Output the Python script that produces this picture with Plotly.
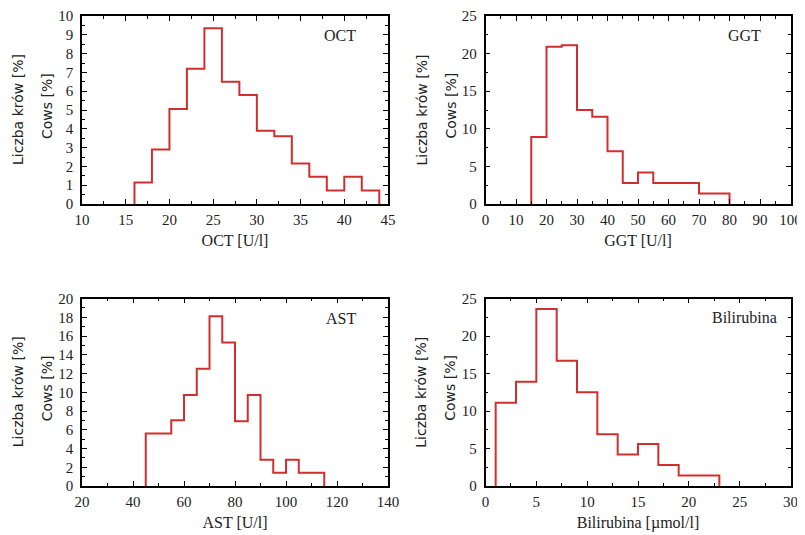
import plotly.graph_objects as go

# ---- data ----
oct_edges = [16, 18, 20, 22, 24, 26, 28, 30, 32, 34, 36, 38, 40, 42, 44]
oct_pct = [1.15, 2.9, 5.05, 7.2, 9.35, 6.5, 5.8, 3.9, 3.6, 2.15, 1.45, 0.72, 1.45, 0.72]

ggt_edges = [15, 20, 25, 30, 35, 40, 45, 50, 55, 60, 65, 70, 75, 80]
ggt_pct = [8.9, 20.9, 21.1, 12.5, 11.6, 7.0, 2.8, 4.2, 2.8, 2.8, 2.8, 1.4, 1.4]

ast_edges = [45, 50, 55, 60, 65, 70, 75, 80, 85, 90, 95, 100, 105, 110, 115]
ast_pct = [5.6, 5.6, 7.0, 9.7, 12.5, 18.1, 15.3, 6.9, 9.7, 2.8, 1.4, 2.8, 1.4, 1.4]

bil_edges = [1, 3, 5, 7, 9, 11, 13, 15, 17, 19, 21, 23]
bil_pct = [11.1, 13.9, 23.6, 16.7, 12.5, 6.9, 4.2, 5.6, 2.8, 1.4, 1.4]

names = ["OCT", "GGT", "AST", "Bilirubina"]
xtitles = ["OCT [U/l]", "GGT [U/l]", "AST [U/l]", "Bilirubina [µmol/l]"]
ytitle1 = "Liczba krów [%]"
ytitle2 = "Cows [%]"

OFF = 8  # page body margin
W, H = 805 - OFF, 535 - OFF
RED = "#d12f2f"
SERIF = "Liberation Serif, Times New Roman, serif"
SANS = "DejaVu Sans, sans-serif"

# panel geometry in page pixels (left, right, top, bottom)
panels = [
    (82, 388, 16, 204),
    (485.5, 790.5, 16, 204),
    (82, 388, 298.5, 486),
    (485.5, 790.5, 298.5, 486),
]
xranges = [[10, 45], [0, 100], [20, 140], [0, 30]]
yranges = [[0, 10], [0, 25], [0, 20], [0, 25]]
xdt = [(5, 2.5), (10, 5), (20, 10), (5, 2.5)]
ydt = [(1, 0.5), (5, 2.5), (2, 1), (5, 2.5)]
label_pos = [(358, 35), (763, 35), (358, 318), (779, 317)]  # page pixel right-edge, center y

datasets = [(oct_edges, oct_pct), (ggt_edges, ggt_pct), (ast_edges, ast_pct), (bil_edges, bil_pct)]


def px(x):
    return (x - OFF) / W


def py(y):
    return 1 - (y - OFF) / H


fig = go.Figure()
annotations = []
for i, ((edges, vals), (l, r, t, b)) in enumerate(zip(datasets, panels)):
    sfx = "" if i == 0 else str(i + 1)
    xs = [edges[0]] + list(edges)
    ys = [0] + list(vals) + [0]
    fig.add_trace(go.Scatter(x=xs, y=ys, mode="lines", line=dict(color=RED, width=2, shape="hv"),
                             xaxis="x" + sfx, yaxis="y" + sfx, showlegend=False, hoverinfo="skip"))
    common = dict(showline=True, linecolor="black", linewidth=1.5, mirror="allticks",
                  ticks="inside", ticklen=5, tickwidth=1.2, tickcolor="black",
                  showgrid=False, zeroline=False, automargin=False,
                  tickfont=dict(family=SERIF, size=15, color="#222"))
    fig.layout["xaxis" + sfx] = dict(
        domain=[px(l), px(r)], range=xranges[i], anchor="y" + sfx,
        dtick=xdt[i][0], tick0=0, ticklabelstandoff=1,
        minor=dict(ticks="inside", dtick=xdt[i][1], ticklen=3, tickcolor="black", tickwidth=1.2, showgrid=False),
        title=dict(text=xtitles[i], font=dict(family=SERIF, size=16, color="#222"), standoff=8),
        **common)
    fig.layout["yaxis" + sfx] = dict(
        domain=[py(b), py(t)], range=yranges[i], anchor="x" + sfx,
        dtick=ydt[i][0], tick0=0, ticklabelstandoff=4,
        minor=dict(ticks="inside", dtick=ydt[i][1], ticklen=3, tickcolor="black", tickwidth=1.2, showgrid=False),
        **common)
    # panel name label
    lx, ly = label_pos[i]
    annotations.append(dict(text=names[i], x=px(lx), y=py(ly), xref="paper", yref="paper",
                            xanchor="right", yanchor="middle", showarrow=False,
                            font=dict(family=SERIF, size=16, color="#222")))
    # y titles
    cy = (t + b) / 2
    annotations.append(dict(text=ytitle1, x=px(l - 64), y=py(cy), xref="paper", yref="paper",
                            xanchor="center", yanchor="middle", textangle=-90, showarrow=False,
                            font=dict(family=SANS, size=14, color="#222")))
    annotations.append(dict(text=ytitle2, x=px(l - 35), y=py(cy - 4), xref="paper", yref="paper",
                            xanchor="center", yanchor="middle", textangle=-90, showarrow=False,
                            font=dict(family=SANS, size=14, color="#222")))

fig.update_layout(width=W, height=H, margin=dict(l=0, r=0, t=0, b=0, autoexpand=False),
                  paper_bgcolor="white", plot_bgcolor="white", annotations=annotations)
fig.write_html("out.html")
